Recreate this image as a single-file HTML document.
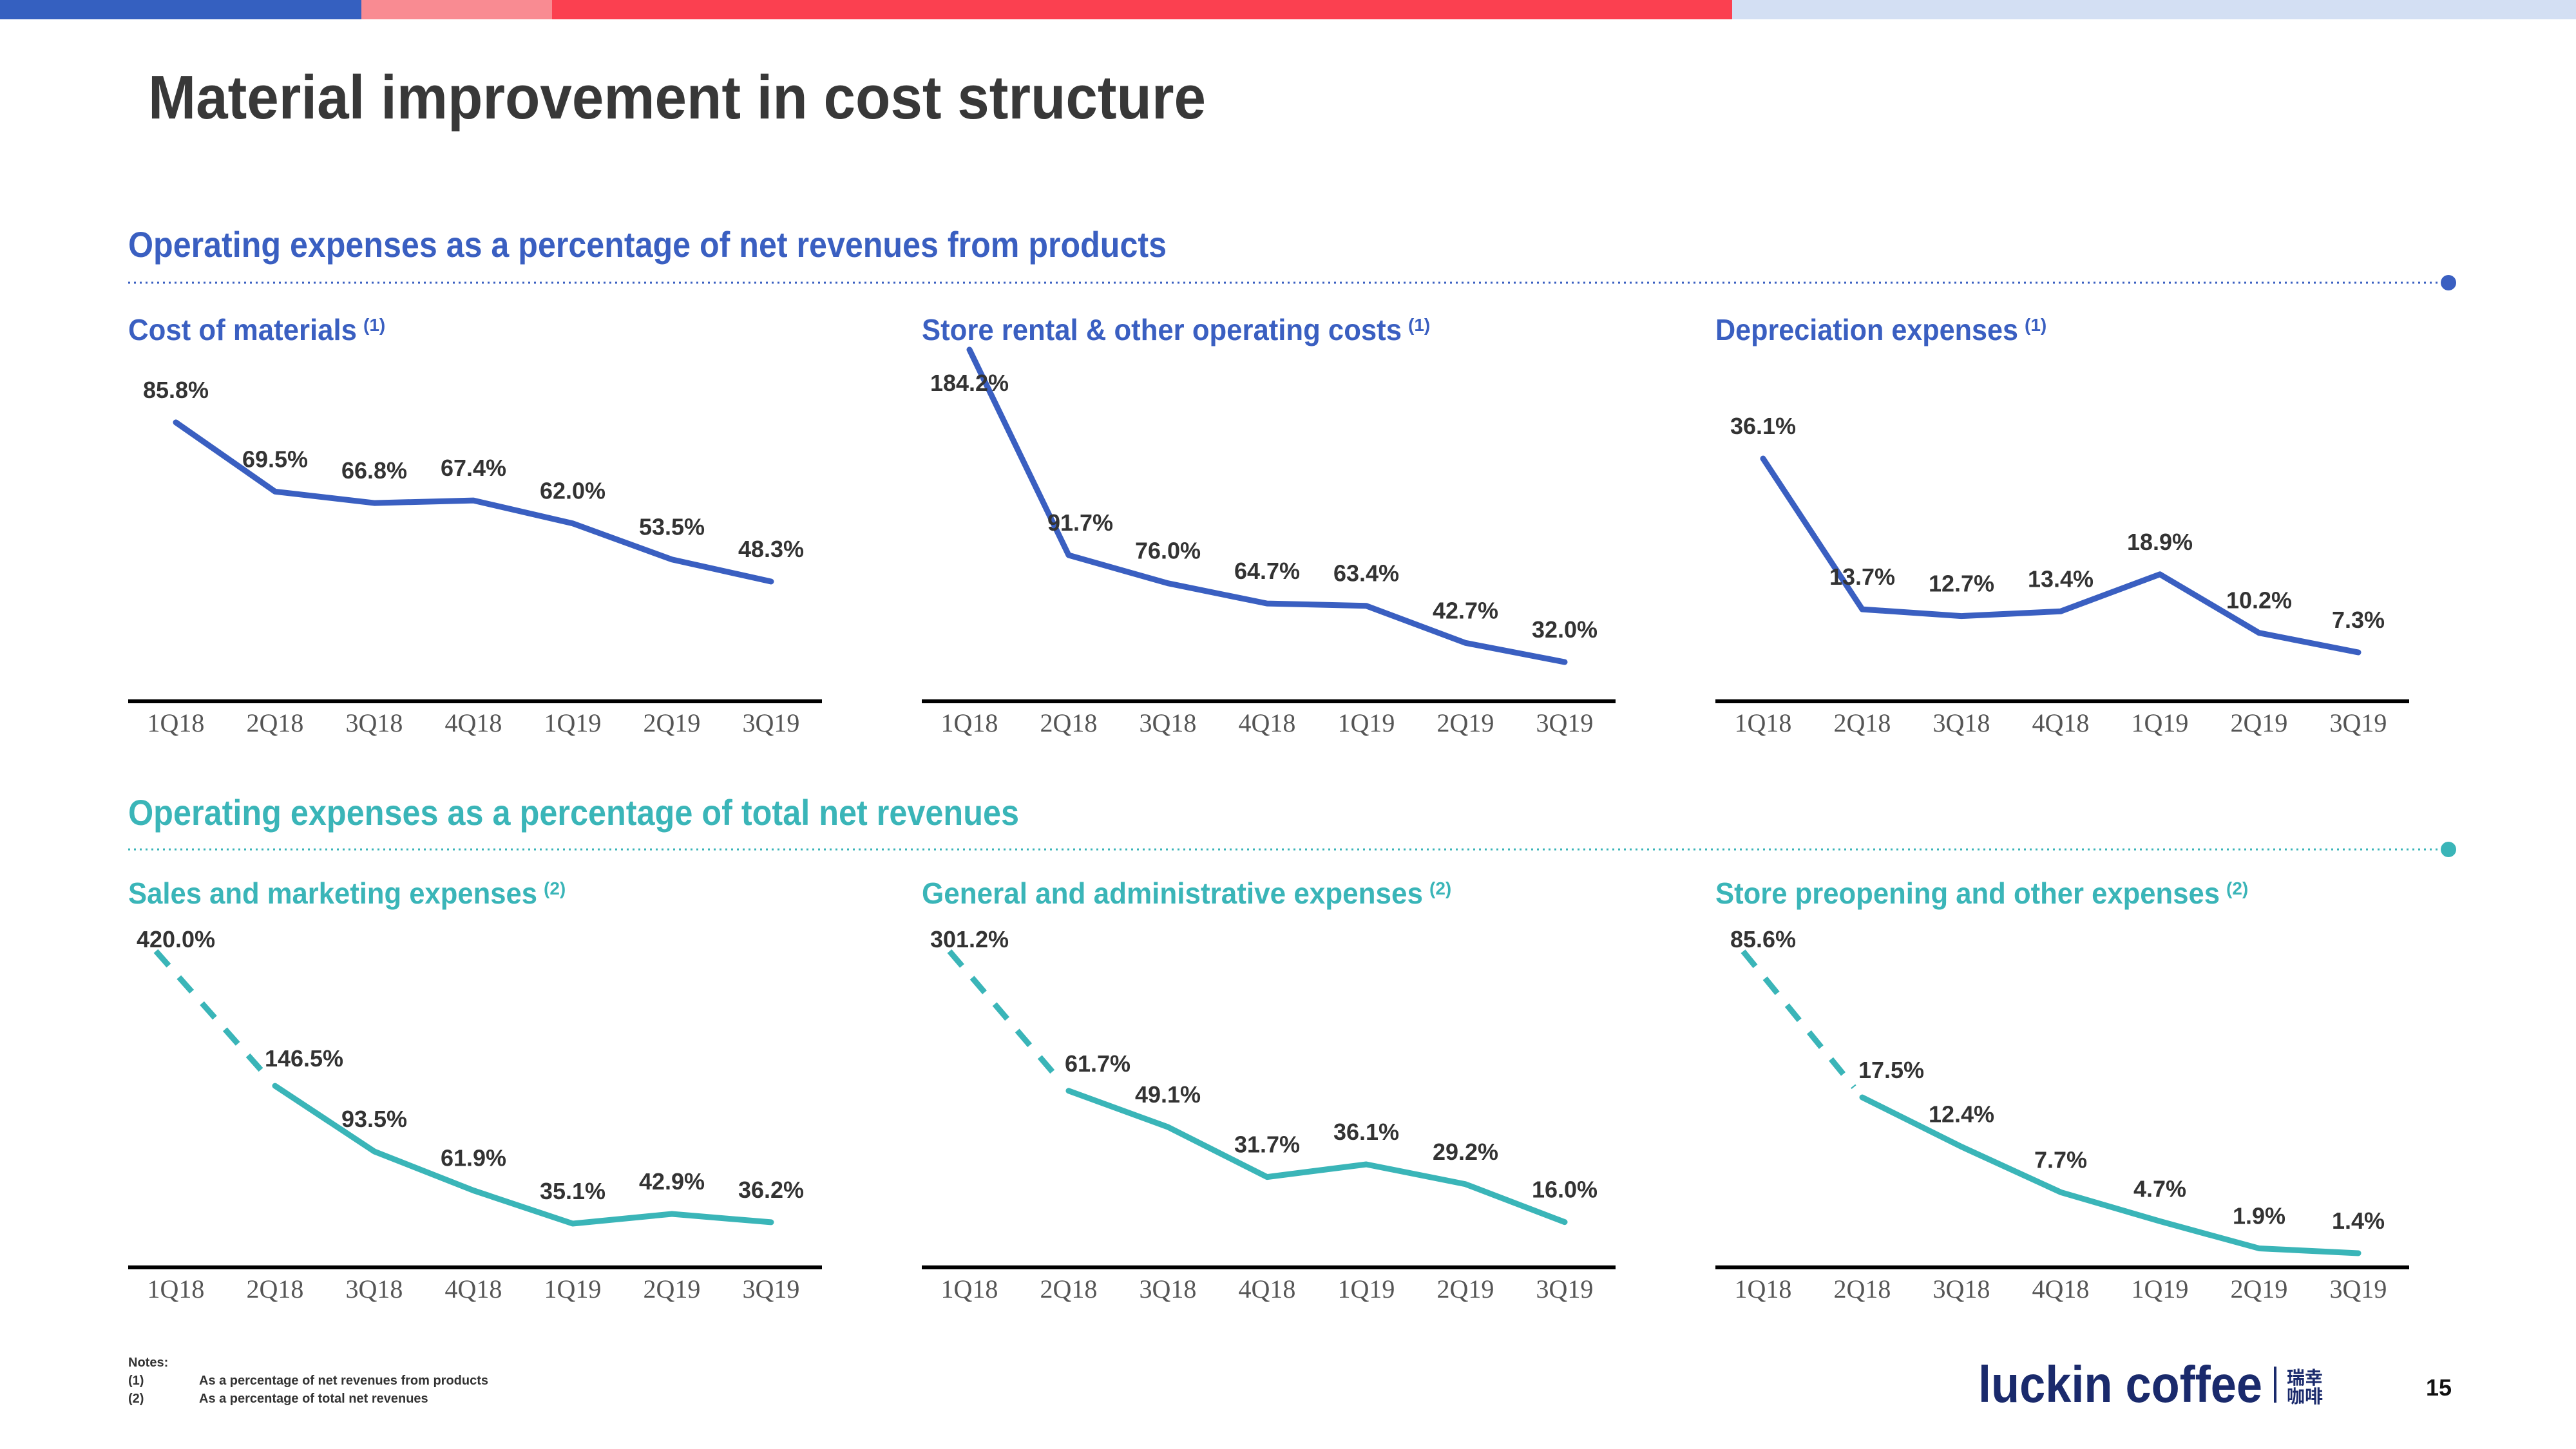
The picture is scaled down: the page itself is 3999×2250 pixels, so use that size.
<!DOCTYPE html>
<html><head><meta charset="utf-8"><style>
html,body{margin:0;padding:0;background:#fff}
svg{display:block}
text{font-family:"Liberation Sans","Noto Sans CJK SC",sans-serif}
</style></head><body>
<svg id="page" width="3999" height="2250" viewBox="0 0 3999 2250" xmlns="http://www.w3.org/2000/svg">
<g>
<rect x="0" y="0" width="561" height="30" fill="#3560c0"/>
<rect x="561" y="0" width="296" height="30" fill="#f98b92"/>
<rect x="857" y="0" width="1832" height="30" fill="#fb4050"/>
<rect x="2689" y="0" width="1310" height="30" fill="#d3dff3"/>
</g>
<text x="230" y="184" font-size="96" font-weight="bold" fill="#383838" textLength="1642" lengthAdjust="spacingAndGlyphs">Material improvement in cost structure</text>

<text x="199" y="399" font-size="56" font-weight="bold" fill="#3a5fc1" textLength="1612" lengthAdjust="spacingAndGlyphs">Operating expenses  as a percentage of net revenues from products</text>
<line x1="199" y1="439" x2="3795" y2="439" stroke="#3a5fc1" stroke-width="3" stroke-dasharray="3 6"/>
<circle cx="3801" cy="439" r="12" fill="#3a5fc1"/>

<text x="199" y="1281" font-size="56" font-weight="bold" fill="#3ab5b8" textLength="1383" lengthAdjust="spacingAndGlyphs">Operating expenses  as a percentage of total net revenues</text>
<line x1="199" y1="1319" x2="3795" y2="1319" stroke="#3ab5b8" stroke-width="3" stroke-dasharray="3 6"/>
<circle cx="3801" cy="1319" r="12" fill="#3ab5b8"/>

<g id="charts"></g>

<g font-size="20" font-weight="bold" fill="#333">
<text x="199" y="2122">Notes:</text>
<text x="199" y="2150">(1)</text><text x="309" y="2150">As a percentage of net revenues from products</text>
<text x="199" y="2178">(2)</text><text x="309" y="2178">As a percentage of total net revenues</text>
</g>
<g>
<text x="3071" y="2177" font-size="80" font-weight="bold" fill="#1a2a6c" textLength="441" lengthAdjust="spacingAndGlyphs">luckin coffee</text>
<rect x="3530" y="2122" width="4" height="56" fill="#1a2a6c"/>
<text x="3550" y="2149" font-size="28" font-weight="bold" fill="#1a2a6c" style='font-family:"Noto Sans CJK SC",sans-serif'>瑞幸</text>
<text x="3550" y="2178" font-size="28" font-weight="bold" fill="#1a2a6c" style='font-family:"Noto Sans CJK SC",sans-serif'>咖啡</text>
</g>
<text x="3766" y="2167" font-size="36" font-weight="bold" fill="#111">15</text>
</svg>
<script>
const categories = ["1Q18","2Q18","3Q18","4Q18","1Q19","2Q19","3Q19"];
const costOfMaterials = [85.8,69.5,66.8,67.4,62.0,53.5,48.3];
const storeRental = [184.2,91.7,76.0,64.7,63.4,42.7,32.0];
const depreciation = [36.1,13.7,12.7,13.4,18.9,10.2,7.3];
const salesMarketing = [420.0,146.5,93.5,61.9,35.1,42.9,36.2];
const generalAdmin = [301.2,61.7,49.1,31.7,36.1,29.2,16.0];
const storePreopening = [85.6,17.5,12.4,7.7,4.7,1.9,1.4];

const NS = "http://www.w3.org/2000/svg";
const root = document.getElementById("charts");
function mk(tag, attrs, parent){const e=document.createElementNS(NS,tag);for(const k in attrs)e.setAttribute(k,attrs[k]);parent.appendChild(e);return e;}

const charts = [
 {name:"cost-of-materials",title:"Cost of materials",tw:355,note:"(1)",data:costOfMaterials,col:0,row:0,y0:1221.3,k:6.59,brk:Infinity,k2:0,dashed:false},
 {name:"store-rental",title:"Store rental & other operating costs",tw:745,note:"(1)",data:storeRental,col:1,row:0,y0:1117,k:2.78,brk:91.7,k2:3.45,dashed:false},
 {name:"depreciation",title:"Depreciation expenses",tw:470,note:"(1)",data:depreciation,col:2,row:0,y0:1089.3,k:10.45,brk:Infinity,k2:0,dashed:false},
 {name:"sales-marketing",title:"Sales and marketing expenses",tw:635,note:"(2)",data:salesMarketing,col:0,row:1,y0:1967.4,k:1.92,brk:146.5,k2:0.765,dashed:true},
 {name:"general-admin",title:"General and administrative expenses",tw:778,note:"(2)",data:generalAdmin,col:1,row:1,y0:1969,k:4.46,brk:61.7,k2:0.905,dashed:true},
 {name:"store-preopening",title:"Store preopening and other expenses",tw:783,note:"(2)",data:storePreopening,col:2,row:1,y0:1967,k:15.03,brk:17.5,k2:3.33,dashed:true}
];
const rows = [{sub:528,axis:1089,tick:1136,top:607,color:"#3a5fc1"},{sub:1403,axis:1968,tick:2015,top:1471,color:"#3ab5b8"}];

charts.forEach(c=>{
  const R = rows[c.row];
  const cx = 199 + c.col*1232;
  const g = mk("g",{},root);
  
  
  const xAt = i => cx + 74 + i*154;
  const yAt = v => v<=c.brk ? c.y0 - v*c.k : (c.y0 - c.brk*c.k) - (v-c.brk)*c.k2;
  const t = mk("text",{x:cx,y:R.sub,"font-size":46,"font-weight":"bold",fill:R.color,textLength:c.tw,lengthAdjust:"spacingAndGlyphs"},g);
  t.textContent = c.title;
  
  
  const sup = mk("text",{x:cx+c.tw+10,y:R.sub-14,"font-size":28,"font-weight":"bold",fill:R.color},g);
  sup.textContent = c.note;
  
  
  const ax = mk("line",{x1:cx,y1:R.axis,x2:cx+1077,y2:R.axis,stroke:"#000","stroke-width":6},g);
  
  
  categories.forEach((cat,i)=>{
    const tl = mk("text",{x:xAt(i),y:R.tick,"font-size":40,fill:"#555","text-anchor":"middle",style:'font-family:"Liberation Serif",serif'},g);
    tl.textContent = cat;
    
    
  });
  const pts = c.data.map((v,i)=>[xAt(i) - (c.dashed && i===0 ? 31 : 0), yAt(v)]);
  const start = c.dashed ? 1 : 0;
  if(c.dashed){
    const [x0,y0]=pts[0],[x1,y1]=pts[1];
    const f=0.93;
    const d = mk("line",{x1:x0,y1:y0,x2:x0+(x1-x0)*f,y2:y0+(y1-y0)*f,stroke:R.color,"stroke-width":9,"stroke-dasharray":"30 24"},g);
    
    
  }
  const ln = mk("polyline",{points:pts.slice(start).map(p=>p.join(",")).join(" "),fill:"none",stroke:R.color,"stroke-width":9,"stroke-linejoin":"round","stroke-linecap":"round"},g);
  
  
  c.data.forEach((v,i)=>{
    const [px,py]=pts[i];
    let ly = Math.max(py-38, R.top);
    let lx = xAt(i);
    if(c.dashed && i===1){ lx = px+45; ly = py-30; }
    if(!c.dashed && c.col===1 && i===1) lx = px+18;
    const lb = mk("text",{x:lx,y:ly,"font-size":36,"font-weight":"bold",fill:"#333","text-anchor":"middle"},g);
    lb.textContent = v.toFixed(1)+"%";
    
    
  });
});
</script>
</body></html>
